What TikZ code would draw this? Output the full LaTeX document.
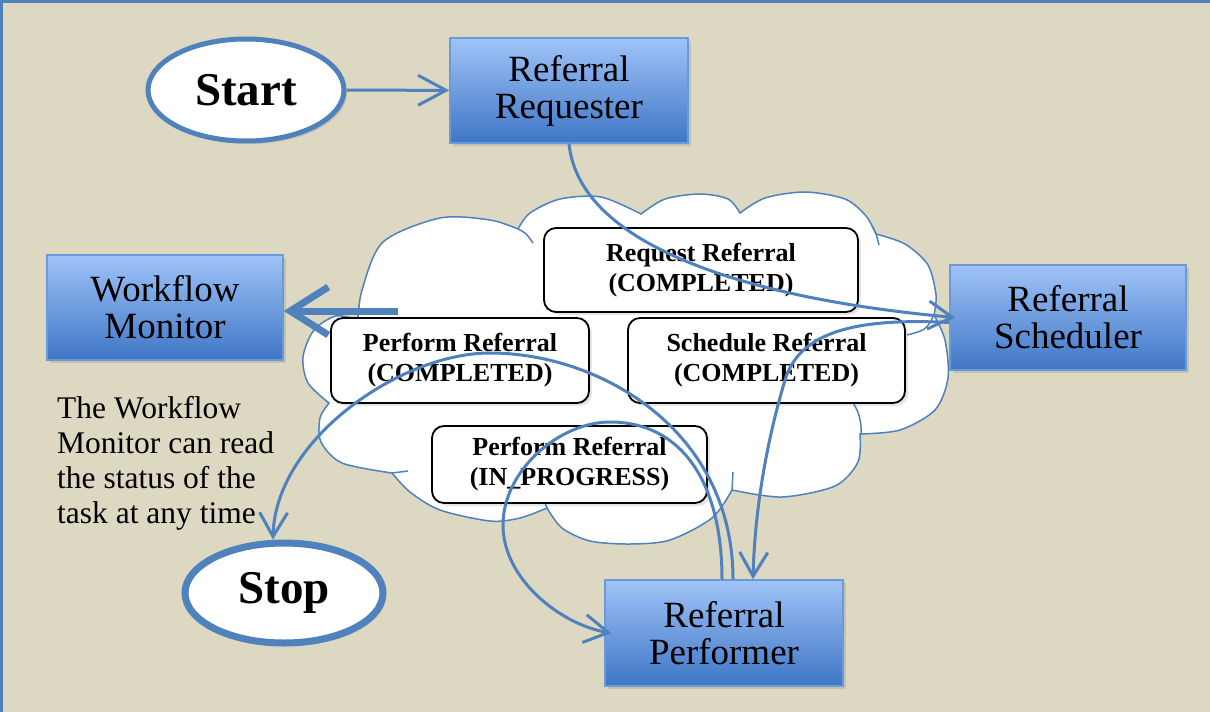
\documentclass[tikz,border=0pt]{standalone}
\usepackage{fontspec}
\setmainfont{Liberation Serif}
\usetikzlibrary{arrows.meta,shapes.geometric,shadows,calc}
\definecolor{bgtan}{HTML}{DDD8C2}
\definecolor{lblue}{HTML}{4F81BD}
\definecolor{boxtop}{HTML}{A0C3F7}
\definecolor{boxbot}{HTML}{3E76C6}
\definecolor{boxline}{HTML}{6A9AD9}
\tikzset{
  bluebox/.style={rectangle, draw=boxline, line width=1.5pt, top color=boxtop, bottom color=boxbot,
    minimum width=236pt, minimum height=105pt, align=center, inner sep=0pt,
    font=\fontsize{37}{37}\selectfont,
    drop shadow={shadow xshift=3pt, shadow yshift=-3pt, opacity=0.25}},
  term/.style={ellipse, draw=lblue, fill=white, inner sep=0pt,
    font=\fontsize{47}{47}\selectfont\bfseries,
    drop shadow={shadow xshift=3pt, shadow yshift=-3pt, opacity=0.25}},
  statebox/.style={rectangle, rounded corners=12pt, draw=black, line width=1.8pt, fill=white,
    align=center, inner sep=0pt, font=\fontsize{26}{30}\selectfont\bfseries,
    drop shadow={shadow xshift=3pt, shadow yshift=-3pt, opacity=0.2}},
  conn/.style={draw=lblue, line width=3pt, -{Straight Barb[length=24pt,width=28pt,line width=3pt]}},
  cloudline/.style={draw=lblue, line width=1.5pt},
}
\begin{document}
\begin{tikzpicture}[x=1pt,y=-1pt]
\useasboundingbox (0,0) rectangle (1210,712);
\fill[bgtan] (0,0) rectangle (1210,712);
\draw[lblue, line width=3pt] (1.5,712) -- (1.5,1.5) -- (1210,1.5);

% cloud
\path[cloudline, fill=white]
  (358,320) -- plot[smooth] coordinates {(358,320) (362,290) (383,242) (440,218) (490,220) (518,229)}
  -- plot[smooth] coordinates {(518,229) (530,213) (560,199) (601,197) (641,214)}
  -- plot[smooth] coordinates {(641,214) (665,199) (700,194) (728,199) (740,213)}
  -- plot[smooth] coordinates {(740,213) (765,198) (805,192) (845,199) (866,216) (876,234)}
  -- plot[smooth] coordinates {(876,234) (905,244) (928,265) (936,295) (934,315)}
  -- plot[smooth] coordinates {(934,315) (945,340) (948,378) (935,410) (900,430) (860,434)}
  -- plot[smooth] coordinates {(860,434) (858,462) (835,486) (782,497) (732,490)}
  -- plot[smooth] coordinates {(732,490) (712,518) (670,540) (630,544) (590,541) (562,528) (547,508)}
  -- plot[smooth] coordinates {(547,508) (520,518) (490,521) (440,510) (410,492) (392,473)}
  -- plot[smooth] coordinates {(392,473) (342,463) (321,442) (320,418) (329,403)}
  -- plot[smooth] coordinates {(329,403) (308,383) (303,357) (314,330) (336,316) (358,320)}
  -- cycle;
% inner arcs of the cloud
\draw[cloudline] (518,229) .. controls (526,233) .. (533,243);
\draw[cloudline] (872,226) .. controls (876,233) .. (879,245);
\draw[cloudline] (934,315) .. controls (926,330) .. (907,335);
\draw[cloudline] (832,383) .. controls (855,398) and (862,415) .. (861,434);
\draw[cloudline] (733,472) -- (732,490);
\draw[cloudline] (541,492) -- (547,508);
\draw[cloudline] (392,473) -- (408,471);

% task states
\node[statebox, minimum width=314pt, minimum height=84pt] (rq) at (701,270) {Request Referral\\(COMPLETED)};
\node[statebox, minimum width=258pt, minimum height=85pt] (pc) at (460,360.5) {Perform Referral\\(COMPLETED)};
\node[statebox, minimum width=277pt, minimum height=85pt] (sc) at (766.5,360.5) {Schedule Referral\\(COMPLETED)};
\node[statebox, minimum width=275pt, minimum height=77pt] (pip) at (569.5,464.5) {Perform Referral\\(IN\_PROGRESS)};

% actors
\node[bluebox, minimum width=238pt] (req) at (569,90.5) {Referral\\Requester};
\node[bluebox] (mon) at (165,307.5) {Workflow\\Monitor};
\node[bluebox] (sch) at (1068,317.5) {Referral\\Scheduler};
\node[bluebox, minimum width=238pt, minimum height=106pt] (perf) at (724,633) {Referral\\Performer};

\node[term, line width=5pt, minimum width=196pt, minimum height=102pt] (start) at (246,90) {Start};
\node[term, line width=7pt, minimum width=198pt, minimum height=100pt] (stop) at (284,593) {Stop};

\node[anchor=north west, align=left, inner sep=0pt, font=\fontsize{31.5}{35}\selectfont] (note) at (57,396)
  {The Workflow\\Monitor can read\\the status of the\\task at any time};

% connectors
\draw[conn, -{Straight Barb[length=28pt,width=30pt,line width=3pt]}] (start) -- (req);
\draw[conn] (req.south) .. controls (580,250) and (760,300) .. ([xshift=6pt]sch.west);
\draw[conn] ([yshift=-5pt]sch.west) .. controls (860,318) and (800,330) .. (785,380)
  .. controls (770,430) and (755,500) .. ([xshift=29pt]perf.north);
\draw[conn] ([xshift=9pt]perf.north) .. controls (733,430) and (600,353) .. (490,353)
  .. controls (400,353) and (275,440) .. ([xshift=-11pt]stop.north);
\draw[conn] ([xshift=-2pt]perf.north) .. controls (722,480) and (680,422) .. (610,422)
  .. controls (560,422) and (503,470) .. (503,525)
  .. controls (503,580) and (562,625) .. ([xshift=7pt]perf.west);
\coordinate (mfrom) at (398,311);
\draw[lblue, line width=7pt, -{Straight Barb[length=38pt,width=48pt,line width=7pt]}] (mfrom) -- (mfrom -| mon.east);
\end{tikzpicture}
\end{document}
